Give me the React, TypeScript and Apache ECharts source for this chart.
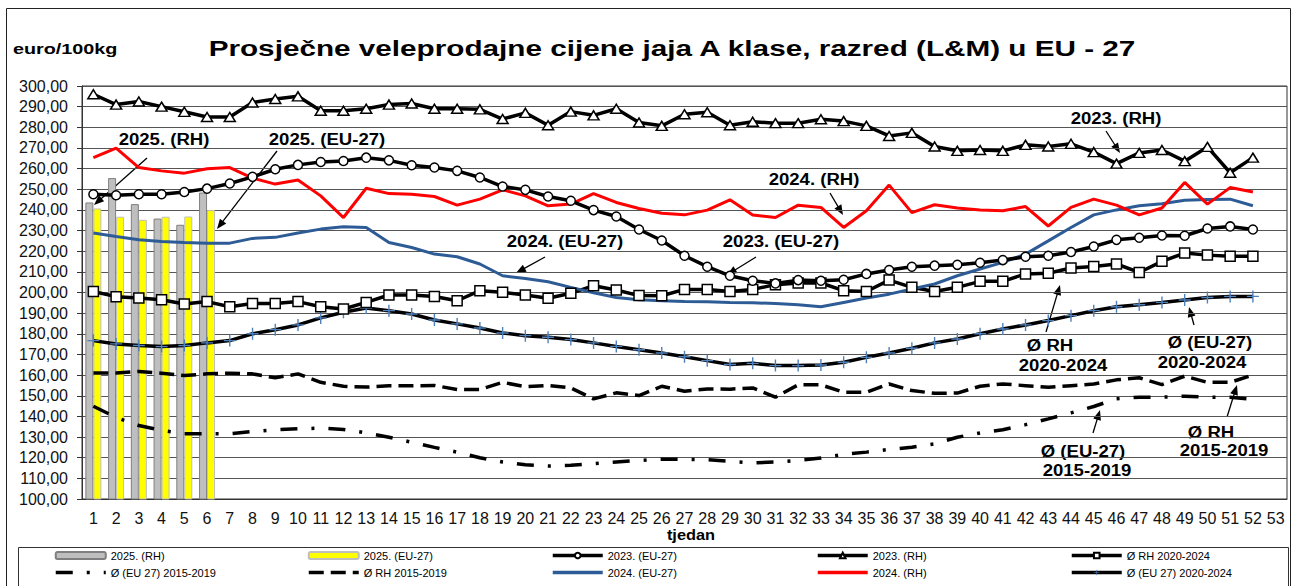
import React, { useEffect, useRef } from 'react';
import * as echarts from 'echarts';

const weeks = ['1','2','3','4','5','6','7','8','9','10','11','12','13','14','15','16','17','18','19','20','21','22','23','24','25','26','27','28','29','30','31','32','33','34','35','36','37','38','39','40','41','42','43','44','45','46','47','48','49','50','51','52','53'];

const rh2025 = [243.6, 255.4, 242.8, 235.8, 232.8, 248.4];
const eu2025 = [240.7, 236.7, 235.2, 236.7, 236.8, 239.9];

const eu2023 = [247.6, 247.1, 247.6, 247.6, 248.7, 250.3, 252.8, 256, 259.7, 261.8, 263.2, 263.7, 265.3, 264, 261.6, 260.5, 258.9, 255.7, 251.3, 249.7, 246.5, 244.4, 239.9, 236.8, 230.5, 225.2, 217.8, 212.5, 208.1, 205.7, 204.4, 206, 205.7, 206.2, 209, 210.9, 212.5, 213, 213.4, 214.4, 215.7, 217.3, 217.8, 219.6, 222.3, 225.5, 226.5, 227.6, 227.5, 231, 232, 230.5];

const rh2023 = [296, 291, 292.5, 290, 287.5, 285, 285, 292, 293.7, 295, 288, 288, 289, 291, 291.5, 289, 289, 288.7, 284, 287, 281, 287.6, 285.8, 289, 282.3, 280.7, 286.3, 287.3, 281, 282.7, 282, 282, 283.9, 283, 280.7, 275.8, 277.3, 270.7, 268.6, 269, 268.6, 271.5, 270.7, 272, 268, 262.4, 267.6, 269, 263.6, 270.5, 258, 265.3];

const rh2020_2024 = [200.5, 198, 197.3, 196.5, 194.4, 195.6, 193.1, 194.7, 194.7, 195.6, 193.1, 192, 195.2, 198.8, 198.8, 198.1, 196, 200.9, 200.1, 198.8, 197.2, 199.6, 203.3, 201.2, 198.5, 198.4, 201.5, 201.5, 200.5, 201.5, 203.8, 204.6, 204.6, 200.9, 200.5, 206, 202.5, 200.5, 202.5, 205.4, 205.4, 209, 209.3, 211.9, 212.6, 213.8, 209.7, 215.1, 219.1, 218.1, 217.6, 217.6];

const eu2015_2019 = [144.9, 139.5, 135.6, 133.2, 131.6, 131.6, 131.6, 132.7, 133.5, 134, 134.3, 133.7, 132, 129.9, 127.5, 125, 122.7, 120, 117.9, 116.6, 116, 116.3, 117.1, 117.9, 118.7, 119.3, 119.2, 119, 118.2, 117.5, 117.9, 118.7, 119.8, 121.6, 122.7, 124, 125.1, 126.7, 129.9, 132, 133.5, 136, 138.8, 141.7, 144.8, 148.5, 149.3, 149.3, 149.8, 149.3, 149.3, 148.2];

const rh2015_2019 = [161, 161, 161.8, 160.9, 159.8, 160.6, 160.9, 160.6, 158.7, 160.6, 156.5, 154.6, 154.2, 154.8, 154.8, 155, 153, 153, 156.5, 154.4, 155, 153.8, 148.5, 151.4, 150.1, 154.6, 152.2, 153.3, 153.2, 153.8, 149.3, 155.3, 155.3, 151.7, 151.7, 155.7, 152.5, 151.2, 151.3, 154.6, 155.7, 154.9, 154.1, 154.9, 155.7, 157.7, 158.7, 155.4, 159.5, 156.5, 156.5, 160.1];

const eu2024 = [228.8, 227.1, 225.5, 224.7, 224.2, 223.9, 223.9, 226.2, 226.7, 228.8, 230.7, 231.8, 231.5, 224.2, 221.8, 218.6, 217.3, 213.8, 208.1, 206.8, 205.2, 202.5, 199.9, 197.6, 196.5, 196, 195.7, 195.5, 195.2, 195, 194.7, 194.1, 193.1, 195.2, 197.3, 199.2, 201.7, 204.1, 208.1, 211.4, 214.6, 218.6, 225, 231.5, 237.6, 240, 242, 243, 244.7, 245, 245.2, 242];

const rh2024 = [265.3, 269.9, 260.5, 258.9, 257.8, 259.9, 260.5, 255.4, 252.5, 254.5, 246.8, 236.3, 250.5, 247.9, 247.6, 246.5, 242.3, 245.2, 249.7, 246.8, 242, 242.8, 247.9, 243.6, 240.7, 238.4, 237.6, 239.9, 244.9, 237.5, 236.3, 242.3, 241.2, 231.5, 239.6, 252, 238.7, 242.5, 240.9, 240, 239.6, 241.6, 232.2, 241.2, 245.2, 242.3, 237.6, 240.9, 253.3, 242.8, 250.8, 248.7];

const eu2020_2024 = [176.7, 175.1, 174.3, 173.8, 174.3, 175.6, 176.7, 180, 182, 184.3, 187.7, 190.4, 192.5, 191.2, 189.6, 186.7, 184.8, 182.8, 180.4, 179.1, 178.3, 177.2, 175.6, 173.9, 172.3, 170.7, 168.9, 167, 165.1, 165.7, 164.6, 164.6, 164.9, 166.2, 168.6, 170.7, 173, 175.6, 177.5, 180, 182.3, 184.3, 186.4, 188.8, 191.2, 193.1, 194.1, 195.2, 196.4, 197.6, 198.1, 198.1];

const FONT = 'Arial, "Liberation Sans", Helvetica, sans-serif';
const PLUS = 'path://M5.3,0H6.7V5.3H12V6.7H6.7V12H5.3V6.7H0V5.3H5.3Z';

function arrow(x1: number, y1: number, x2: number, y2: number) {
  const dx = x2 - x1, dy = y2 - y1;
  const len = Math.hypot(dx, dy);
  const ux = dx / len, uy = dy / len;
  const hl = 10, hw = 4;
  const bx = x2 - ux * hl, by = y2 - uy * hl;
  return [
    { type: 'line', silent: true, shape: { x1, y1, x2: bx + ux * 2, y2: by + uy * 2 }, style: { stroke: '#000', lineWidth: 1.3 } },
    { type: 'polygon', silent: true, shape: { points: [[x2, y2], [bx - uy * hw, by + ux * hw], [bx + uy * hw, by - ux * hw]] }, style: { fill: '#000' } },
  ];
}

function label(text: string, x: number, y: number, size = 16, sx = 1.16, align = 'center', weight = 'bold') {
  return {
    type: 'text', silent: true, x, y, scaleX: sx,
    style: { text, fontSize: size, fontWeight: weight, fontFamily: FONT, fill: '#000', align, verticalAlign: 'middle' },
  };
}

const noMarker = (name: string) => ({ name, itemStyle: { opacity: 0 } });

const legendCommon = {
  orient: 'vertical', top: 550, itemWidth: 50, itemHeight: 7, itemGap: 6, padding: 0,
  selectedMode: false,
  lineStyle: { width: 3.5 },
  textStyle: { fontSize: 11, fontFamily: FONT, color: '#000', lineHeight: 11 },
};

export default function App() {
  const ref = useRef<HTMLDivElement>(null);
  useEffect(() => {
    const chart = echarts.init(ref.current!, null, { renderer: 'svg' });
    const blackLine = { color: '#000', width: 3.5 };
    const hollow = { color: '#fff', borderColor: '#000', borderWidth: 1.5 };
    chart.setOption({
      animation: false,
      backgroundColor: '#fff',
      grid: { left: 82, right: 8, top: 86, bottom: 87, show: true, borderColor: '#333', borderWidth: 1 },
      xAxis: {
        type: 'category', data: weeks, boundaryGap: true,
        axisLine: { show: true, lineStyle: { color: '#333' } },
        axisTick: { show: false },
        axisLabel: { interval: 0, fontSize: 16, fontFamily: FONT, color: '#111', margin: 11 },
        splitLine: { show: false },
      },
      yAxis: {
        type: 'value', min: 100, max: 300, interval: 10,
        axisLine: { show: true, lineStyle: { color: '#333' } },
        axisTick: { show: true, length: 5, lineStyle: { color: '#333' } },
        axisLabel: { fontSize: 16, fontFamily: FONT, color: '#111', margin: 14, formatter: (v: number) => v.toFixed(2).replace('.', ',') },
        splitLine: { show: true, lineStyle: { color: '#555', width: 1 } },
      },
      legend: [
        { ...legendCommon, left: 54, data: ['2025. (RH)', noMarker('Ø (EU 27) 2015-2019')] },
        { ...legendCommon, left: 307, data: ['2025. (EU-27)', noMarker('Ø RH 2015-2019')] },
        { ...legendCommon, left: 551, data: ['2023. (EU-27)', noMarker('2024. (EU-27)')] },
        { ...legendCommon, left: 816, data: ['2023. (RH)', noMarker('2024. (RH)')] },
        { ...legendCommon, left: 1070, data: ['Ø RH 2020-2024', 'Ø (EU 27) 2020-2024'] },
      ],
      series: [
        { name: '2025. (RH)', type: 'bar', data: rh2025, barWidth: 8, barGap: '0%', itemStyle: { color: '#BFBFBF', borderColor: '#7F7F7F', borderWidth: 1 } },
        { name: '2025. (EU-27)', type: 'bar', data: eu2025, barWidth: 8, barGap: '0%', itemStyle: { color: '#FFFF00', borderColor: '#BFBFBF', borderWidth: 1 } },
        { name: 'Ø (EU 27) 2015-2019', type: 'line', data: eu2015_2019, symbol: 'none', lineStyle: { color: '#000', width: 3.5, type: [17, 14, 3, 14] }, itemStyle: { color: '#000' } },
        { name: 'Ø RH 2015-2019', type: 'line', data: rh2015_2019, symbol: 'none', lineStyle: { color: '#000', width: 3.5, type: [15, 7] }, itemStyle: { color: '#000' } },
        { name: 'Ø (EU 27) 2020-2024', type: 'line', data: eu2020_2024, symbol: PLUS, symbolSize: 12, lineStyle: blackLine, itemStyle: { color: '#4F81BD' } },
        { name: 'Ø RH 2020-2024', type: 'line', data: rh2020_2024, symbol: 'rect', symbolSize: 10, lineStyle: blackLine, itemStyle: hollow },
        { name: '2024. (EU-27)', type: 'line', data: eu2024, symbol: 'none', lineStyle: { color: '#2D5B96', width: 3 }, itemStyle: { color: '#2D5B96' } },
        { name: '2024. (RH)', type: 'line', data: rh2024, symbol: 'none', lineStyle: { color: '#FF0000', width: 3 }, itemStyle: { color: '#FF0000' } },
        { name: '2023. (EU-27)', type: 'line', data: eu2023, symbol: 'circle', symbolSize: 9, lineStyle: blackLine, itemStyle: hollow },
        { name: '2023. (RH)', type: 'line', data: rh2023, symbol: 'triangle', symbolSize: [11, 9], lineStyle: blackLine, itemStyle: hollow },
      ],
      graphic: [
        { type: 'rect', silent: true, shape: { x: 6.5, y: 8.5, width: 1284, height: 600 }, style: { fill: 'none', stroke: '#222', lineWidth: 1 } },
        { type: 'rect', silent: true, shape: { x: 18.5, y: 547.5, width: 1270, height: 50 }, style: { fill: 'none', stroke: '#333', lineWidth: 1 } },
        label('Prosječne veleprodajne cijene jaja A klase, razred (L&M) u EU - 27', 672, 48, 22, 1.35),
        label('euro/100kg', 13, 49, 15, 1.32, 'left'),
        label('tjedan', 691, 535, 14, 1.17),
        label('2025. (RH)', 164, 139),
        ...arrow(147, 158, 94, 205),
        label('2025. (EU-27)', 327, 139),
        ...arrow(277, 151, 217, 229),
        label('2024. (RH)', 814, 179),
        ...arrow(830, 193, 843, 215),
        label('2024. (EU-27)', 565, 241),
        ...arrow(545, 257, 516, 273),
        label('2023. (EU-27)', 781, 241),
        ...arrow(756, 257, 727, 275),
        label('2023. (RH)', 1116, 118),
        ...arrow(1106, 131, 1120, 153),
        label('Ø RH', 1050, 345),
        label('2020-2024', 1063, 365),
        ...arrow(1046, 332, 1060, 285),
        label('Ø (EU-27)', 1210, 342),
        label('2020-2024', 1202, 362),
        ...arrow(1194, 325, 1189, 307),
        label('Ø (EU-27)', 1083, 451),
        label('2015-2019', 1087, 470),
        ...arrow(1093, 433, 1100, 410),
        label('Ø RH', 1211, 432),
        label('2015-2019', 1224, 450),
        ...arrow(1227, 417, 1237, 385),
      ],
    });
    return () => chart.dispose();
  }, []);
  return <div ref={ref} style={{ position: 'absolute', left: 0, top: 0, width: 1295, height: 586, background: '#fff' }} />;
}
